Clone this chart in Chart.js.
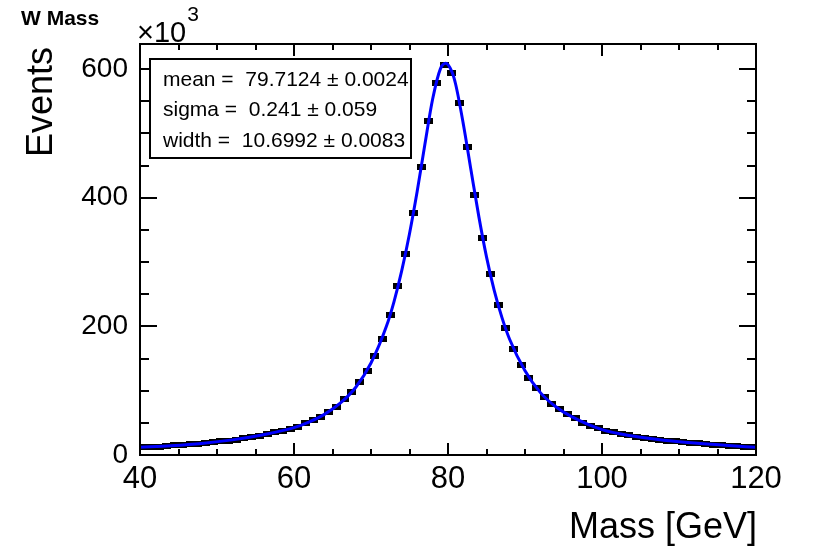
<!DOCTYPE html>
<html>
<head>
<meta charset="utf-8">
<title>W Mass</title>
<script src="https://cdn.jsdelivr.net/npm/chart.js@4.4.1/dist/chart.umd.min.js"></script>
<style>
  body { margin: 0; background: #fff; }
  canvas { display: block; }
</style>
</head>
<body>
<canvas id="wmass-chart" width="822" height="555"></canvas>
<script>
// histogram: 80 bins of 1 GeV from 40 to 120, contents in units of 10^3 events
const histMin = 40;
const binWidth = 1;
const events = [
  12, 12.5, 13, 14, 15, 15.5, 16.5, 17.5, 18.5, 20,
  21, 22.5, 24, 26, 28, 30, 32.5, 35, 38, 41,
  44, 49, 54, 59.5, 67, 75, 86.5, 97.5, 114, 131,
  154, 181, 217, 263, 313, 376, 448, 519, 579, 606,
  594, 548, 479, 404, 338, 281, 233, 197, 165, 140,
  120, 104, 90.5, 79.5, 71, 63.5, 57, 50.5, 45, 41.5,
  38, 35, 32.5, 30.5, 28.5, 27, 25.5, 24, 22.5, 21,
  20, 19, 18, 17, 16, 15, 14.5, 13.5, 13, 12
];

// fitted curve
const fitMass = [40, 44, 48, 52, 56, 60, 62, 64, 66, 68, 70, 72, 73, 74, 75, 76, 77, 78, 79, 79.7,
  80.5, 81, 82, 83, 84, 85, 86, 87, 88, 90, 92, 94, 96, 100, 104, 108, 112, 116, 120];
const fitEvents = [12, 14.5, 18, 23.5, 31.5, 42.5, 51.5, 63.5, 80.5, 105, 143, 200, 239, 287, 344, 410, 483, 553, 600, 609,
  596, 576, 514, 442, 371, 308, 256, 214, 180, 131, 97, 75, 60, 39.5, 29.5, 23, 18.5, 15, 12];

const xTickValues = [40, 60, 80, 100, 120];
const yTickValues = [0, 200, 400, 600];
const statsLines = [
  'mean =  79.7124 \u00b1 0.0024',
  'sigma =  0.241 \u00b1 0.059',
  'width =  10.6992 \u00b1 0.0083'
];

const FONT = '"Liberation Sans", Arial, Helvetica, sans-serif';

const binCenters = events.map((_, i) => histMin + binWidth * (i + 0.5));

// small black bar used as the data marker
const marker = document.createElement('canvas');
marker.width = 9;
marker.height = 6;
const mctx = marker.getContext('2d');
mctx.fillStyle = '#000';
mctx.fillRect(0, 0, 9, 6);

const rootFrame = {
  id: 'rootFrame',
  afterDraw(chart) {
    const { ctx, chartArea: a, scales: { x, y } } = chart;
    ctx.save();
    ctx.strokeStyle = '#000';
    ctx.lineWidth = 2;
    ctx.strokeRect(a.left, a.top, a.right - a.left, a.bottom - a.top);

    // inward ticks on all four sides
    ctx.beginPath();
    for (let v = x.min; v <= x.max; v += 5) {
      const px = Math.round(x.getPixelForValue(v));
      const len = v % 20 === 0 ? 12 : 6;
      ctx.moveTo(px, a.bottom); ctx.lineTo(px, a.bottom - len);
      ctx.moveTo(px, a.top); ctx.lineTo(px, a.top + len);
    }
    for (let v = 0; v <= y.max; v += 50) {
      const py = Math.round(y.getPixelForValue(v));
      const len = v % 200 === 0 ? 17 : 9;
      ctx.moveTo(a.left, py); ctx.lineTo(a.left + len, py);
      ctx.moveTo(a.right, py); ctx.lineTo(a.right - len, py);
    }
    ctx.stroke();

    // stats box
    ctx.fillStyle = '#fff';
    ctx.fillRect(150, 59, 261, 99);
    ctx.strokeRect(150, 59, 261, 99);
    ctx.fillStyle = '#000';
    ctx.font = '21px ' + FONT;
    ctx.textAlign = 'left';
    ctx.textBaseline = 'alphabetic';
    const baselines = [86, 116, 147];
    statsLines.forEach((line, i) => ctx.fillText(line, 163, baselines[i]));

    // titles
    ctx.font = 'bold 21px ' + FONT;
    ctx.fillText('W Mass', 21, 25);

    ctx.font = '29px ' + FONT;
    ctx.fillText('\u00d710', 137, 42);
    const w10 = ctx.measureText('\u00d710').width;
    ctx.font = '21px ' + FONT;
    ctx.fillText('3', 137 + w10 + 1, 21);

    ctx.font = '36px ' + FONT;
    ctx.textAlign = 'right';
    ctx.fillText('Mass [GeV]', a.right + 1, 538);

    ctx.translate(52, a.top + 3);
    ctx.rotate(-Math.PI / 2);
    ctx.fillText('Events', 0, 0);
    ctx.restore();
  }
};

new Chart(document.getElementById('wmass-chart'), {
  type: 'scatter',
  data: {
    datasets: [
      {
        label: 'fit',
        data: fitMass.map((m, i) => ({ x: m, y: fitEvents[i] })),
        showLine: true,
        borderColor: '#0000ff',
        borderWidth: 3,
        pointRadius: 0,
        cubicInterpolationMode: 'monotone',
        order: 0
      },
      {
        label: 'data',
        data: binCenters.map((m, i) => ({ x: m, y: events[i] })),
        showLine: false,
        pointStyle: marker,
        pointRadius: 4,
        order: 1
      }
    ]
  },
  options: {
    responsive: false,
    animation: false,
    layout: { padding: { left: 0, top: 44, right: 66, bottom: 0 } },
    plugins: {
      legend: { display: false },
      tooltip: { enabled: false }
    },
    scales: {
      x: {
        type: 'linear',
        min: 40,
        max: 120,
        grid: { display: false, drawTicks: false },
        border: { display: false },
        afterBuildTicks: scale => { scale.ticks = xTickValues.map(v => ({ value: v })); },
        afterFit: scale => { scale.height = 100; },
        ticks: {
          autoSkip: false,
          maxRotation: 0,
          padding: 6,
          color: '#000',
          font: { family: FONT, size: 31 }
        }
      },
      y: {
        type: 'linear',
        min: 0,
        max: 639,
        grid: { display: false, drawTicks: false },
        border: { display: false },
        afterBuildTicks: scale => { scale.ticks = yTickValues.map(v => ({ value: v })); },
        afterFit: scale => { scale.width = 140; },
        ticks: {
          autoSkip: false,
          padding: 12,
          color: '#000',
          font: { family: FONT, size: 28 }
        }
      }
    }
  },
  plugins: [rootFrame]
});
</script>
</body>
</html>
